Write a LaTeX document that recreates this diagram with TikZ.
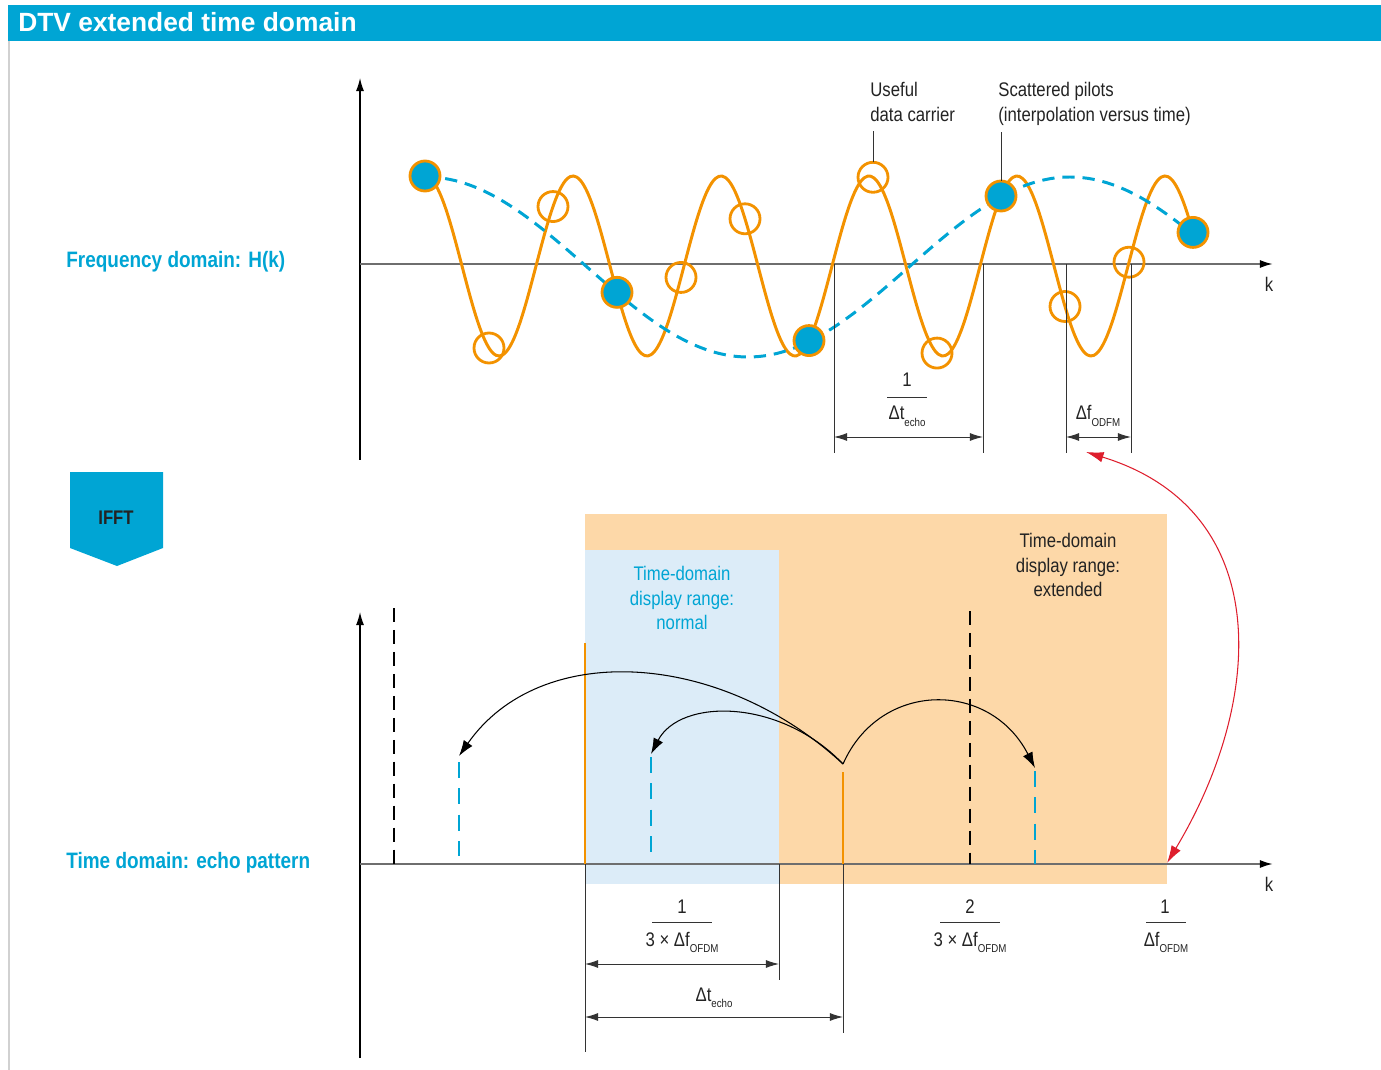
\documentclass[tikz,border=0pt]{standalone}
\usepackage{fontspec}
\setmainfont{Liberation Sans}
\newfontfamily\condfont[FakeStretch=0.85]{Liberation Sans}
\usetikzlibrary{arrows.meta}

\definecolor{dtvblue}{RGB}{0,165,212}
\definecolor{dtvorange}{RGB}{243,146,0}
\definecolor{extfill}{RGB}{253,216,168}
\definecolor{normfill}{RGB}{220,236,248}
\definecolor{dtvred}{RGB}{222,30,45}
\definecolor{axisgrey}{RGB}{110,110,110}
\definecolor{textgrey}{RGB}{35,35,35}

\newcommand{\subtxt}[1]{\raisebox{-3.5pt}{\fontsize{6.5}{7}\selectfont #1}}

\begin{document}
\begin{tikzpicture}[x=0.02cm, y=-0.02cm,
  every node/.style={font=\condfont\fontsize{11.2}{14.2}\selectfont, text=textgrey, inner sep=0pt},
  domainlabel/.style={font=\condfont\bfseries\fontsize{12.7}{15}\selectfont, text=dtvblue, anchor=base west},
  vaxis/.style={line width=0.7pt, -{Latex[length=7.5pt,width=4.6pt]}},
  kaxis/.style={draw=axisgrey, line width=1.1pt, -{Latex[length=7.5pt,width=4.6pt,color=black]}},
  dimline/.style={line width=0.55pt, draw=black!80},
  dimarrow/.style={dimline, {Latex[length=7.5pt,width=4.6pt]}-{Latex[length=7.5pt,width=4.6pt]}},
  hcurve/.style={dtvorange, line width=1.7pt},
  interp/.style={dtvblue, line width=1.7pt, dash pattern=on 7pt off 4.5pt},
  carrier/.style={draw=dtvorange, line width=1.6pt},
  pilot/.style={carrier, fill=dtvblue},
  mainpath/.style={dtvorange, line width=1.4pt},
  refline/.style={black, line width=1.6pt, dash pattern=on 8pt off 4.5pt},
  echoline/.style={dtvblue, line width=1.4pt, dash pattern=on 9pt off 6pt},
  jump/.style={line width=0.6pt, -{Latex[length=9pt,width=6pt]}},
  redlink/.style={dtvred, line width=0.6pt, {Latex[length=10pt,width=6pt]}-{Latex[length=10pt,width=6pt]}}]
  \useasboundingbox (0,0) rectangle (1381,1070);

  % title bar
  \fill[dtvblue] (8,5) rectangle (1381,41);
  \node[anchor=base west, font=\bfseries\fontsize{15}{18}\selectfont, text=white] (title) at (18,31.5) {DTV extended time domain};
  \draw[black!18, line width=0.8pt] (9,41) -- (9,1070);

  % frequency domain axes
  \coordinate (O1) at (360,264);
  \draw[vaxis] (360,460) -- (360,78);
  \draw[kaxis] (O1) -- (1273,264);
  \node (k1) at (1269,284) {k};
  \node[domainlabel] (freqlabel) at (66,268) {Frequency domain: H(k)};

  % channel and interpolation curves
  \draw[hcurve, domain=425:1197, samples=240, smooth] plot (\x, {266-90*cos(2.4324*(\x-425))});
  \draw[interp, domain=425:1197, samples=80, smooth] plot (\x, {267-90*cos(0.559*(\x-1070))});

  % carriers and pilots
  \foreach \i in {1,2,4,5,7,8,10,11} {
    \pgfmathsetmacro\cx{425+64*\i}
    \pgfmathsetmacro\cy{266-90*cos(2.4324*(\cx-425))}
    \coordinate (c\i) at (\cx,\cy);
    \draw[carrier] (c\i) circle (0.3cm);
  }
  \foreach \i in {0,3,6,9,12} {
    \pgfmathsetmacro\cx{425+64*\i}
    \pgfmathsetmacro\cy{266-90*cos(2.4324*(\cx-425))}
    \coordinate (c\i) at (\cx,\cy);
    \filldraw[pilot] (c\i) circle (0.3cm);
  }

  % carrier labels
  \node[anchor=west, align=left] (useful) at (870,102) {Useful\\data carrier};
  \node[anchor=west, align=left] (scattered) at (998,104) {Scattered pilots\\(interpolation versus time)};
  \draw[dimline] (c7) ++(0,-15) -- ++(0,-31);
  \draw[dimline] (c9) ++(0,-15) -- ++(0,-49);

  % spacing in frequency
  \coordinate (e1) at (834,437);
  \coordinate (e2) at (983,437);
  \coordinate (f1) at (1066,437);
  \coordinate (f2) at (1131,437);
  \draw[dimline] (834,264) -- (834,453);
  \draw[dimline] (983,264) -- (983,453);
  \draw[dimline] (1066,264) -- (1066,453);
  \draw[dimline] (1131,264) -- (1131,453);
  \draw[dimarrow] (e1) -- (e2);
  \draw[dimarrow] (f1) -- (f2);
  \node[anchor=base] (numE) at (907,387) {1};
  \draw[dimline] (887,397) -- (927,397);
  \node[anchor=base] (denE) at (907,420) {Δt\subtxt{echo}};
  \node[anchor=base] (dfTop) at (1098,420) {Δf\subtxt{ODFM}};

  % IFFT marker
  \fill[dtvblue] (70,472) -- (163,472) -- (163,548) -- (117,566) -- (70,548) -- cycle;
  \node[font=\condfont\bfseries\fontsize{11.2}{14}\selectfont] (ifft) at (116,518) {IFFT};

  % display ranges
  \fill[extfill] (585,514) rectangle (1167,884);
  \fill[normfill] (585,550) rectangle (779,884);
  \node[align=center, text=dtvblue] (normal) at (682,598) {Time-domain\\display range:\\normal};
  \node[align=center] (extended) at (1068,565) {Time-domain\\display range:\\extended};

  % time domain axes
  \coordinate (O2) at (360,864);
  \draw[vaxis] (360,1058) -- (360,612);
  \draw[kaxis] (O2) -- (1273,864);
  \node (k2) at (1269,884) {k};
  \node[domainlabel] (timelabel) at (66,868) {Time domain: echo pattern};

  % echo pattern
  \draw[mainpath] (585,643) -- (585,864);
  \draw[mainpath] (843,772) -- (843,864);
  \draw[refline] (394,608) -- (394,864);
  \draw[refline] (970,611) -- (970,864);
  \draw[echoline] (459,762) -- (459,856);
  \draw[echoline] (651,757) -- (651,854);
  \draw[echoline] (1035,771) -- (1035,864);

  % aliasing jumps
  \coordinate (apex) at (843,764);
  \coordinate (alias1) at (459,756);
  \coordinate (alias2) at (651,754);
  \coordinate (alias3) at (1035,768);
  \draw[jump] (apex) .. controls (720,650) and (540,640) .. (alias1);
  \draw[jump] (apex) .. controls (780,698) and (680,698) .. (alias2);
  \draw[jump] (apex) .. controls (880,680) and (990,680) .. (alias3);

  % link between spacing and range
  \coordinate (linkF) at (1086,452);
  \coordinate (linkT) at (1167,863);
  \draw[redlink] (linkF) .. controls (1275,510) and (1265,700) .. (linkT);

  % spacing in time
  \coordinate (t1) at (585,964);
  \coordinate (t2) at (779,964);
  \coordinate (t3) at (585,1017);
  \coordinate (t4) at (843,1017);
  \draw[dimline] (585,864) -- (585,1052);
  \draw[dimline] (779,864) -- (779,980);
  \draw[dimline] (843,864) -- (843,1033);
  \draw[dimarrow] (t1) -- (t2);
  \draw[dimarrow] (t3) -- (t4);
  \node[anchor=base] (numA) at (682,913) {1};
  \draw[dimline] (652,922) -- (712,922);
  \node[anchor=base] (denA) at (682,946) {3 × Δf\subtxt{OFDM}};
  \node[anchor=base] (numB) at (970,913) {2};
  \draw[dimline] (940,922) -- (1000,922);
  \node[anchor=base] (denB) at (970,946) {3 × Δf\subtxt{OFDM}};
  \node[anchor=base] (numC) at (1165,913) {1};
  \draw[dimline] (1146,922) -- (1186,922);
  \node[anchor=base] (denC) at (1166,946) {Δf\subtxt{OFDM}};
  \node[anchor=base] (dtecho) at (714,1001) {Δt\subtxt{echo}};
\end{tikzpicture}
\end{document}
